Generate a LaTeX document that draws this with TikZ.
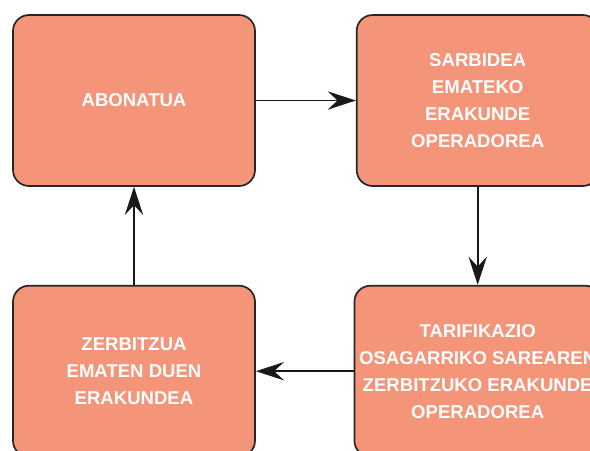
\documentclass[tikz,border=0pt]{standalone}
\usepackage{fontspec}
\setmainfont{Liberation Sans}
\usetikzlibrary{positioning,arrows.meta}
\definecolor{boxfill}{HTML}{F4957A}

\begin{document}
\begin{tikzpicture}[node distance=2.45cm and 2.5cm,
  every node/.style = {shape=rectangle, rounded corners=0.4cm, draw=black!85, line width=1.2pt,
    fill=boxfill, text=white, align=center, minimum width=6.05cm, minimum height=4.275cm,
    font=\bfseries\fontsize{13.2}{19.2}\selectfont},
  link/.style = {line width=1.4pt, black!90, -{Stealth[length=20pt, width=13pt, inset=7pt]}}]
  \useasboundingbox (0,0) rectangle (14.75,-11.25);
  \clip (0,0) rectangle (14.75,-11.25);
  \node (abonatua) at (3.35,-2.5125) {ABONATUA};
  \node (sarbidea) [right=of abonatua] {SARBIDEA\\EMATEKO\\ERAKUNDE\\OPERADOREA};
  \node (tarifikazio) [below=of sarbidea] {TARIFIKAZIO\\OSAGARRIKO SAREAREN\\ZERBITZUKO ERAKUNDE\\OPERADOREA};
  \node (zerbitzua) [below=of abonatua] {ZERBITZUA\\EMATEN DUEN\\ERAKUNDEA};
  \draw[link] (abonatua) -- (sarbidea);
  \draw[link] (sarbidea) -- (tarifikazio);
  \draw[link] (tarifikazio) -- (zerbitzua);
  \draw[link] (zerbitzua) -- (abonatua);
\end{tikzpicture}
\end{document}
